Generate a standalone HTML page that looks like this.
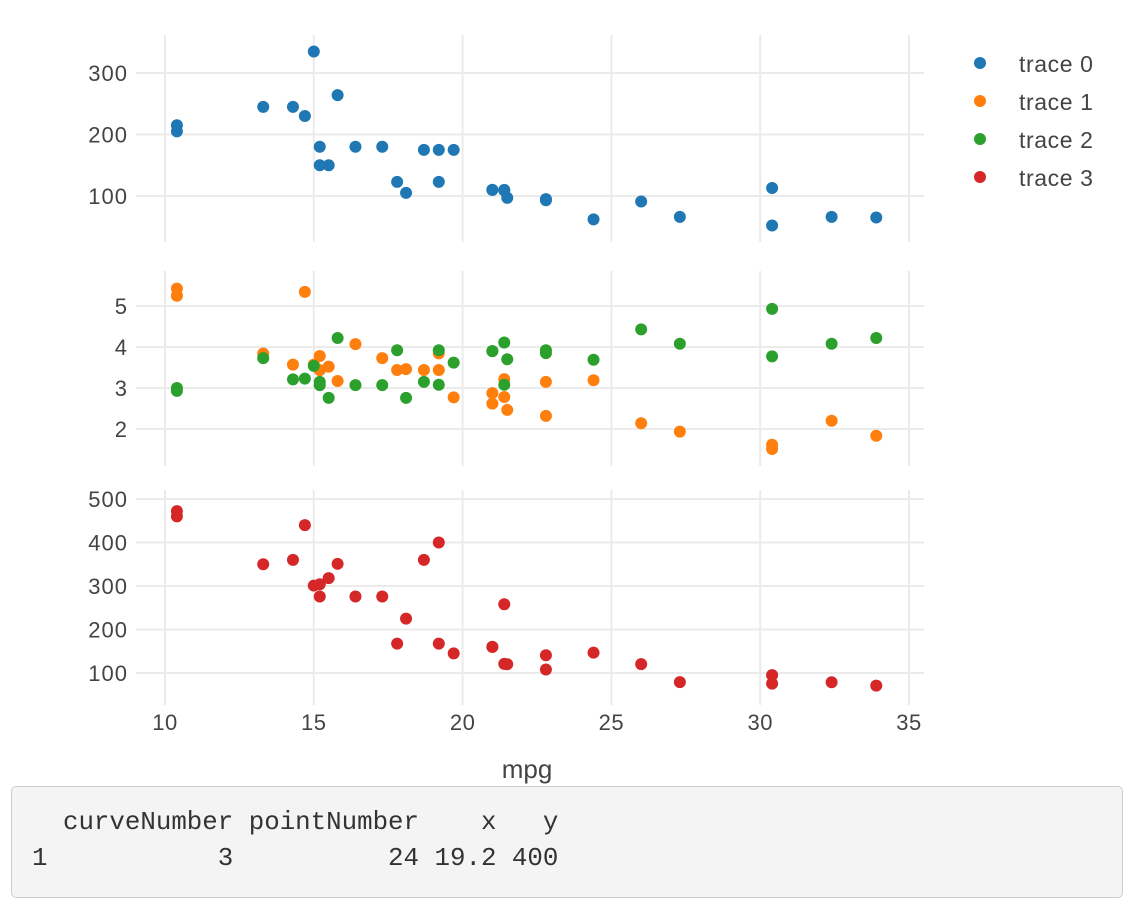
<!DOCTYPE html>
<html><head><meta charset="utf-8"><style>
body{margin:0;background:#fff;width:1138px;height:916px;overflow:hidden;font-family:"Liberation Sans",sans-serif}
#out{position:absolute;left:11px;top:786px;width:1112px;height:112px;background:#f4f4f4;border:1px solid #ccc;border-radius:5px;box-sizing:border-box}
#out pre{margin:0;position:absolute;left:20px;top:18px;font-family:"Liberation Mono",monospace;font-size:25.8px;line-height:36px;color:#333}
</style></head><body>
<svg id="chart" width="1138" height="786" style="position:absolute;left:0;top:0"></svg>
<div id="out"><pre>  curveNumber pointNumber    x   y
1           3          24 19.2 400</pre></div>
<script>
const mpg=[21.0,21.0,22.8,21.4,18.7,18.1,14.3,24.4,22.8,19.2,17.8,16.4,17.3,15.2,10.4,10.4,14.7,32.4,30.4,33.9,21.5,15.5,15.2,13.3,19.2,27.3,26.0,30.4,15.8,19.7,15.0,21.4];
const hp=[110,110,93,110,175,105,245,62,95,123,123,180,180,180,205,215,230,66,52,65,97,150,150,245,175,66,91,113,264,175,335,109];
const wt=[2.620,2.875,2.320,3.215,3.440,3.460,3.570,3.190,3.150,3.440,3.440,4.070,3.730,3.780,5.250,5.424,5.345,2.200,1.615,1.835,2.465,3.520,3.435,3.840,3.845,1.935,2.140,1.513,3.170,2.770,3.570,2.780];
const drat=[3.90,3.90,3.85,3.08,3.15,2.76,3.21,3.69,3.92,3.92,3.92,3.07,3.07,3.07,2.93,3.00,3.23,4.08,4.93,4.22,3.70,2.76,3.15,3.73,3.08,4.08,4.43,3.77,4.22,3.62,3.54,4.11];
const disp=[160,160,108,258,360,225,360,146.7,140.8,167.6,167.6,275.8,275.8,275.8,472,460,440,78.7,75.7,71.1,120.1,318,304,350,400,79,120.3,95.1,351,145,301,121];
const xTicks=[10,15,20,25,30,35];
const y1Ticks=[100,200,300],y2Ticks=[2,3,4,5],y3Ticks=[100,200,300,400,500];
const colors=['#1f77b4','#ff7f0e','#2ca02c','#d62728'];
const NS='http://www.w3.org/2000/svg';
const svg=document.getElementById('chart');
function el(t,a,p){const e=document.createElementNS(NS,t);for(const k in a)e.setAttribute(k,a[k]);(p||svg).appendChild(e);return e;}
const X0=136,X1=924;
const xs=v=>165+(v-10)*29.76;
const panels=[
 {top:35,bot:242,ys:v=>196-(v-100)*0.615,ticks:y1Ticks,series:[[hp,0]]},
 {top:271,bot:466,ys:v=>306-(v-5)*41,ticks:y2Ticks,series:[[wt,1],[drat,2]]},
 {top:490,bot:705,ys:v=>673-(v-100)*0.435,ticks:y3Ticks,series:[[disp,3]]}];
panels.forEach((p,pi)=>{
 xTicks.forEach(t=>{const l=el('line',{x1:xs(t),x2:xs(t),y1:p.top,y2:p.bot,stroke:'#ebebeb','stroke-width':2});
  });
 p.ticks.forEach(t=>{const y=p.ys(t);
  const l=el('line',{x1:X0,x2:X1,y1:y,y2:y,stroke:'#ebebeb','stroke-width':2});
  
  const tx=el('text',{x:128,y:y+8,'text-anchor':'end','font-size':22,'letter-spacing':1,fill:'#444'});tx.textContent=t;
  });
 p.series.forEach(([arr,ci])=>{arr.forEach((v,i)=>{
  const c=el('circle',{cx:xs(mpg[i]),cy:p.ys(v),r:6,fill:colors[ci]});
  });});
});
xTicks.forEach(t=>{const tx=el('text',{x:xs(t),y:730,'text-anchor':'middle','font-size':22,'letter-spacing':0.5,fill:'#444'});tx.textContent=t;
 });
const xt=el('text',{x:527,y:778,'text-anchor':'middle','font-size':26,fill:'#444'});xt.textContent='mpg';

colors.forEach((c,i)=>{const y=64+i*38;
 const d=el('circle',{cx:980,cy:y-1,r:6,fill:c});
 const t=el('text',{x:1019,y:y+8,'font-size':23,'letter-spacing':0.6,fill:'#444'});t.textContent='trace '+i;
 });
</script>
</body></html>
